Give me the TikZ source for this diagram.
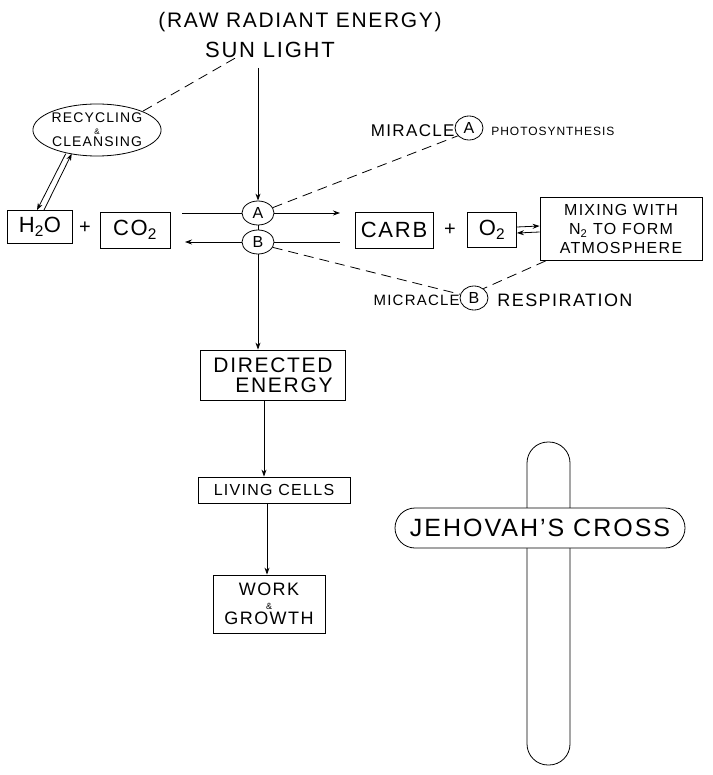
\documentclass[tikz,border=0pt]{standalone}
\usepackage{fontspec}
\setmainfont{Liberation Sans}[LetterSpace=8]
\usetikzlibrary{arrows.meta,shapes.geometric}
\newcommand\hsz[1]{\fontsize{#1}{#1}\selectfont}
\begin{document}
\begin{tikzpicture}[x=1pt,y=-1pt,line width=0.8pt,
  >={Stealth[length=7pt,width=5pt]},
  lbl/.style={inner sep=0pt},
  box/.style={draw,inner sep=0pt,align=center},
  oval/.style={draw,ellipse,inner sep=0pt},
  dashline/.style={dash pattern=on 10pt off 6pt}]
\useasboundingbox (0,0) rectangle (712,775);

% top labels
\node[lbl,font=\hsz{21}] (raw) at (300,22) {(RAW RADIANT ENERGY)};
\node[lbl,font=\hsz{22}] (sun) at (270,50) {SUN LIGHT};

% recycling ellipse
\node[oval,minimum width=115,minimum height=52,align=center,font=\hsz{14}] (recyc) at (97,130)
  {RECYCLING\\[-2pt]{\hsz{8}\&}\\[-2pt]CLEANSING};

% left side
\node[box,minimum width=65,minimum height=33,font=\hsz{22}] (h2o) at (40,227) {H\textsubscript{2}O};
\node[lbl,font=\hsz{20}] (plusA) at (85,228) {+};
\node[box,minimum width=70,minimum height=36,font=\hsz{22}] (co2) at (135,230) {CO\textsubscript{2}};

% A and B
\node[oval,minimum width=32,minimum height=24,font=\hsz{16}] (A) at (258,213) {A};
\node[oval,minimum width=32,minimum height=24,font=\hsz{16}] (B) at (258,242) {B};

% right side
\node[box,minimum width=78,minimum height=36,font=\hsz{22}] (carb) at (394,230) {CARB};
\node[lbl,font=\hsz{20}] (plusB) at (450,230) {+};
\node[box,minimum width=49,minimum height=35,font=\hsz{22}] (o2) at (492,230) {O\textsubscript{2}};
\node[box,minimum width=162,minimum height=63,font=\hsz{16}] (mix) at (621,229)
  {MIXING WITH\\[3pt]N\textsubscript{2} TO FORM\\[3pt]ATMOSPHERE};

% miracle labels
\node[lbl,anchor=east,font=\hsz{17}] (mirA) at (455,131) {MIRACLE};
\node[oval,minimum width=28,minimum height=24,font=\hsz{16}] (mA) at (469,128) {A};
\node[lbl,anchor=west,font=\hsz{12}] (photo) at (491,131) {PHOTOSYNTHESIS};
\node[lbl,anchor=east,font=\hsz{15}] (micB) at (460,300) {MICRACLE};
\node[oval,minimum width=28,minimum height=24,font=\hsz{16}] (mB) at (474,298) {B};
\node[lbl,anchor=west,font=\hsz{18}] (resp) at (497,300) {RESPIRATION};

% flow column
\node[box,minimum width=145,minimum height=50,align=right,font=\hsz{21}] (directed) at (273,375)
  {DIRECTED\\[-1pt]ENERGY};
\node[box,minimum width=152,minimum height=26,font=\hsz{16}] (living) at (274,490) {LIVING CELLS};
\node[box,minimum width=112,minimum height=58,font=\hsz{18}] (work) at (269,604)
  {WORK\\[-4pt]{\hsz{9}\&}\\[-3pt]GROWTH};

% free ends
\coordinate (sunfoot) at (258,68);
\coordinate (inA) at (182,213);
\coordinate (outA) at (340,213);
\coordinate (outB) at (185,242);
\coordinate (inB) at (340,242);

% connectors
\draw[->] (sunfoot) -- (A);
\draw (A) -- (B);
\draw (inA) -- (A);
\draw[->] (A) -- (outA);
\draw[->] (B) -- (outB);
\draw (B) -- (inB);
\draw[->] (B) -- (B |- directed.north);
\draw[->] ([xshift=-9]directed.south) -- ([xshift=-10]living.north);
\draw[->] ([xshift=-7]living.south) -- ([xshift=-2]work.north);

\draw[->] ([xshift=-3]recyc.-140) -- ([xshift=-3]h2o.north);
\draw[<-] ([xshift=3]recyc.-140) -- ([xshift=4]h2o.north);
\draw[->] ([yshift=3]o2.east) -- ([yshift=3]mix.west);
\draw[<-] ([yshift=-3]o2.east) -- ([yshift=-3]mix.west);

\draw[dashline] ([xshift=-35]sun.south) -- (recyc.north east);
\draw[dashline] (A.20) -- (mA.215);
\draw[dashline] (B.-20) -- (mB.165);
\draw[dashline] ([xshift=6]mix.south west) -- (mB.45);

% cross
\draw[rounded corners=21pt] (527,442) rectangle (570,765);
\node[draw,fill=white,rounded corners=20pt,minimum width=290,minimum height=40,inner sep=0pt,font=\hsz{25}]
  (cross) at (540,528) {JEHOVAH'S CROSS};
\end{tikzpicture}
\end{document}
